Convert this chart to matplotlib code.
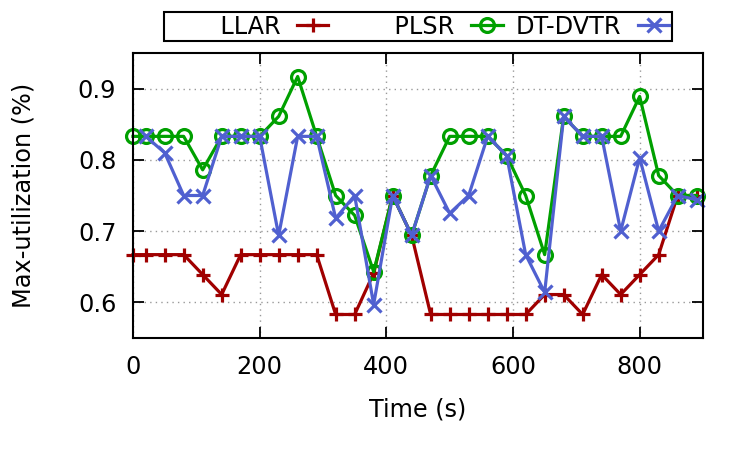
import numpy as np
from matplotlib import pyplot as plt

# time stamps (s)
time = [0, 20, 50, 80, 110, 140, 170, 200, 230, 260, 290, 320, 350, 380, 410, 440,
        470, 500, 530, 560, 590, 620, 650, 680, 710, 740, 770, 800, 830, 860, 890]

llar = [0.667, 0.667, 0.667, 0.667, 0.639, 0.611, 0.667, 0.667, 0.667, 0.667, 0.667,
        0.583, 0.583, 0.641, 0.750, 0.694, 0.583, 0.583, 0.583, 0.583, 0.583, 0.583,
        0.611, 0.611, 0.583, 0.639, 0.611, 0.639, 0.667, 0.750, 0.750]

plsr = [0.833, 0.833, 0.833, 0.833, 0.786, 0.833, 0.833, 0.833, 0.861, 0.917, 0.833,
        0.750, 0.722, 0.643, 0.750, 0.694, 0.778, 0.833, 0.833, 0.833, 0.806, 0.750,
        0.667, 0.861, 0.833, 0.833, 0.833, 0.889, 0.778, 0.750, 0.750]

# DT-DVTR starts at the second time stamp
dtdvtr_time = time[1:]
dtdvtr = [0.833, 0.810, 0.750, 0.750, 0.833, 0.833, 0.833, 0.694, 0.833, 0.833,
          0.718, 0.750, 0.597, 0.750, 0.694, 0.778, 0.725, 0.750, 0.833, 0.806,
          0.667, 0.614, 0.861, 0.833, 0.833, 0.700, 0.803, 0.700, 0.750, 0.744]

xticks = [0, 200, 400, 600, 800]
yticks = [0.6, 0.7, 0.8, 0.9]

fs = 17.3

def main():
    fig = plt.figure(figsize=(7.5, 4.5), dpi=100)
    ax = fig.add_axes([133/750, 1-338/450, 570/750, 285/450])

    style = dict(lw=2.3, ms=10, mew=2.3, clip_on=False)
    ax.plot(time, llar, color='#a00000', marker='+', label='       LLAR', **style)
    ax.plot(time, plsr, color='#00a000', marker='o', mfc='none', label='       PLSR', **style)
    ax.plot(dtdvtr_time, dtdvtr, color='#5060d0', marker='x', label='DT-DVTR', **style)

    ax.set_xlim(0, 900)
    ax.set_ylim(0.55, 0.95)
    ax.set_xticks(xticks)
    ax.set_yticks(yticks)
    ax.set_yticklabels(['%.1f' % v for v in yticks])
    ax.tick_params(direction='in', top=True, right=True, length=8, width=1.3,
                   labelsize=fs)
    ax.tick_params(axis='x', pad=12.5)
    ax.tick_params(axis='y', pad=12)
    for s in ax.spines.values():
        s.set_linewidth(1.5)
    ax.grid(True, linestyle=(0, (1, 3)), color='#999999', lw=1)
    ax.set_axisbelow(True)

    ax.set_xlabel('Time (s)', fontsize=fs, va='center')
    ax.xaxis.set_label_coords(0.5, (338-410)/285)
    ax.set_ylabel('Max-utilization (%)', fontsize=fs, va='center')
    ax.yaxis.set_label_coords((24-133)/570, 0.5)

    leg = fig.legend(loc='center', bbox_to_anchor=(418/750, 1-26.5/450), ncol=3,
                     markerfirst=False, fontsize=fs, frameon=True, fancybox=False,
                     handlelength=1.3, handletextpad=0.7, columnspacing=0.55,
                     borderpad=0.1, borderaxespad=0)
    leg.get_frame().set_edgecolor('black')
    leg.get_frame().set_linewidth(1.5)
    leg.get_frame().set_alpha(1)

    plt.savefig('out.png', dpi=100)
    plt.close()

if __name__ == '__main__':
    main()
